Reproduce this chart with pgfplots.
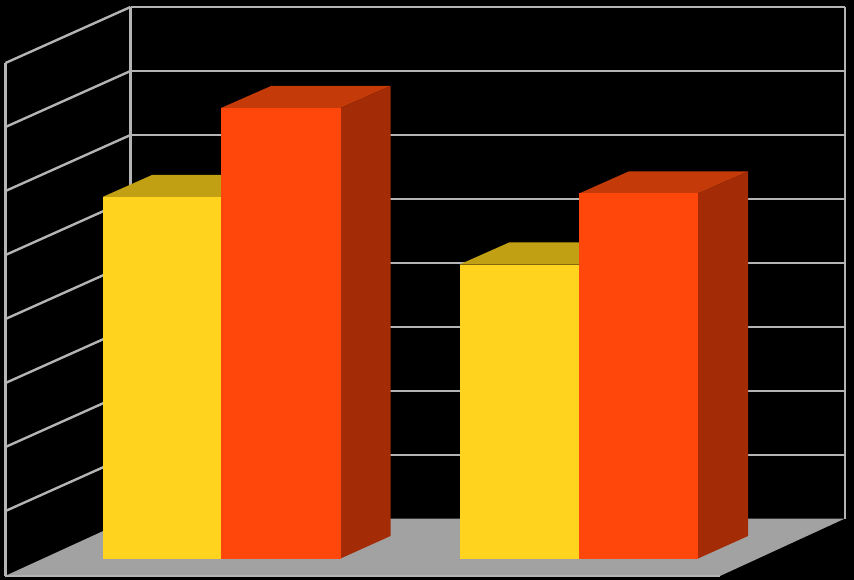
\documentclass[border=0pt]{standalone}
\usepackage{pgfplots}
\pgfplotsset{compat=1.18}

\definecolor{wallline}{HTML}{B4B4B4}
\definecolor{floorgrey}{HTML}{A2A2A2}
\definecolor{yfront}{HTML}{FFD31E}
\definecolor{ytop}{HTML}{C1A014}
\definecolor{rfront}{HTML}{FF470C}
\definecolor{rtop}{HTML}{C43A08}
\definecolor{rside}{HTML}{A32C06}

\pgfplotsset{
    wall/.style = {draw=wallline, line width=2.4pt, no marks},
    face/.style = {draw=none, no marks},
}

\begin{document}
\begin{tikzpicture}
\begin{axis}[
    scale only axis,
    width=854pt, height=580pt,
    xmin=0, xmax=854, ymin=0, ymax=580,
    y dir=reverse,
    hide axis,
]
    % background
    \addplot[face, fill=black] coordinates {(0,0) (854,0) (854,580) (0,580)} --cycle;

    % floor
    \addplot[face, fill=floorgrey] coordinates {(5,576) (130.5,518.5) (845,518.5) (720,576)} --cycle;

    % back wall lines
    \addplot[wall] coordinates {(130.5,7) (845,7)};
    \addplot[wall] coordinates {(130.5,71) (845,71)};
    \addplot[wall] coordinates {(130.5,135) (845,135)};
    \addplot[wall] coordinates {(130.5,199) (845,199)};
    \addplot[wall] coordinates {(130.5,263) (845,263)};
    \addplot[wall] coordinates {(130.5,327) (845,327)};
    \addplot[wall] coordinates {(130.5,391) (845,391)};
    \addplot[wall] coordinates {(130.5,455) (845,455)};
    \addplot[wall] coordinates {(130.5,7) (130.5,518.5)};
    \addplot[wall] coordinates {(845,7) (845,518.5)};

    % side wall lines
    \addplot[wall] coordinates {(5.5,63) (130.5,7)};
    \addplot[wall] coordinates {(5.5,127) (130.5,71)};
    \addplot[wall] coordinates {(5.5,191) (130.5,135)};
    \addplot[wall] coordinates {(5.5,255) (130.5,199)};
    \addplot[wall] coordinates {(5.5,319) (130.5,263)};
    \addplot[wall] coordinates {(5.5,383) (130.5,327)};
    \addplot[wall] coordinates {(5.5,447) (130.5,391)};
    \addplot[wall] coordinates {(5.5,511) (130.5,455)};
    \addplot[wall] coordinates {(5.5,63) (5.5,576)};
    \addplot[wall] coordinates {(5,576) (720,576)};

    % group 1, yellow
    \addplot[face, fill=ytop] coordinates {(102.5,197) (152,175) (271,175) (221,197)} --cycle;
    \addplot[face, fill=yfront] coordinates {(102.5,197) (221,197) (221,558.5) (102.5,558.5)} --cycle;
    % group 1, red
    \addplot[face, fill=rtop] coordinates {(221,108) (271,86) (390.5,86) (340.5,108)} --cycle;
    \addplot[face, fill=rside] coordinates {(340.5,108) (390.5,86) (390.5,536) (340.5,558.5)} --cycle;
    \addplot[face, fill=rfront] coordinates {(221,108) (340.5,108) (340.5,558.5) (221,558.5)} --cycle;

    % group 2, yellow
    \addplot[face, fill=ytop] coordinates {(459.5,264.5) (509,242.5) (628,242.5) (579,264.5)} --cycle;
    \addplot[face, fill=yfront] coordinates {(459.5,264.5) (579,264.5) (579,558.5) (459.5,558.5)} --cycle;
    % group 2, red
    \addplot[face, fill=rtop] coordinates {(579,193.5) (628.5,171.5) (748,171.5) (698,193.5)} --cycle;
    \addplot[face, fill=rside] coordinates {(698,193.5) (748,171.5) (748,536) (698,558.5)} --cycle;
    \addplot[face, fill=rfront] coordinates {(579,193.5) (698,193.5) (698,558.5) (579,558.5)} --cycle;
\end{axis}
\end{tikzpicture}
\end{document}
